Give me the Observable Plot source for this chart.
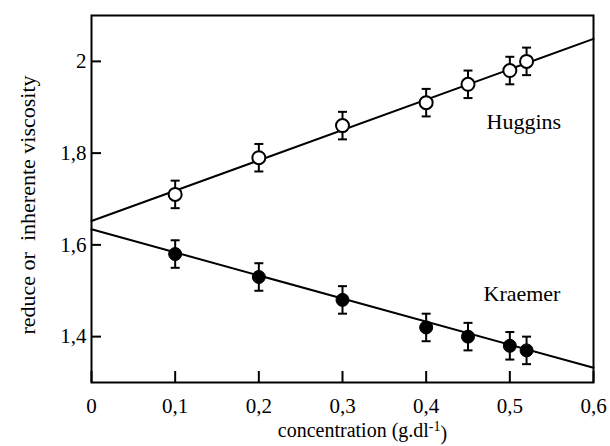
<!DOCTYPE html>
<html>
<head>
<meta charset="utf-8">
<script src="https://cdn.jsdelivr.net/npm/d3@7"></script>
<script src="https://cdn.jsdelivr.net/npm/@observablehq/plot@0.6"></script>
<style>
  body { margin: 0; background: #fff; }
  svg, svg text, svg tspan { font-family: "Liberation Serif", "Times New Roman", serif !important; }
  .ytitle text { white-space: pre; }
</style>
</head>
<body>
<div id="chart"></div>
<script>
// Concentration (g/dl) of each measured solution
const concentration = [0.1, 0.2, 0.3, 0.4, 0.45, 0.5, 0.52];
// Reduced viscosity (Huggins) and inherent viscosity (Kraemer)
const huggins = [1.71, 1.79, 1.86, 1.91, 1.95, 1.98, 2.00];
const kraemer = [1.58, 1.53, 1.48, 1.42, 1.40, 1.38, 1.37];
// Half-height of the error bars
const hugginsErr = [0.03, 0.03, 0.03, 0.03, 0.03, 0.03, 0.03];
const kraemerErr = [0.03, 0.03, 0.03, 0.03, 0.03, 0.03, 0.03];
// Fitted straight lines, extrapolated to zero concentration
const fitConcentration = [0, 0.6];
const hugginsFit = [1.652, 2.049];
const kraemerFit = [1.634, 1.332];
// Axis ticks
const xTicks = [0, 0.1, 0.2, 0.3, 0.4, 0.5, 0.6];
const yTicks = [1.4, 1.6, 1.8, 2.0];
const seriesNames = ["Huggins", "Kraemer"];
const xTitle = "concentration (g.dl";
const xTitleExp = "-1";
const yTitle = "reduce or  inherente viscosity";

const serif = "Liberation Serif, Times New Roman, serif";

const rows = (ys, es) => concentration.map((c, i) => ({c, v: ys[i], e: es[i]}));
const hRows = rows(huggins, hugginsErr);
const kRows = rows(kraemer, kraemerErr);
const fitRows = ys => fitConcentration.map((c, i) => ({c, v: ys[i]}));

// Decimal comma, as in the source publication
const fmt = d => String(+(+d).toFixed(2)).replace(".", ",");

// Horizontal cap drawn at the ends of each error bar
const cap = {draw(context) { context.moveTo(-4.5, 0); context.lineTo(4.5, 0); }};

const errorMarks = data => [
  Plot.ruleX(data, {x: "c", y1: d => d.v - d.e, y2: d => d.v + d.e, stroke: "#000", strokeWidth: 2}),
  Plot.dot(data, {x: "c", y: d => d.v + d.e, symbol: cap, fill: "none", stroke: "#000", strokeWidth: 2}),
  Plot.dot(data, {x: "c", y: d => d.v - d.e, symbol: cap, fill: "none", stroke: "#000", strokeWidth: 2})
];

const chart = Plot.plot({
  width: 610,
  height: 446,
  marginLeft: 91,
  marginRight: 17,
  marginTop: 15,
  marginBottom: 64,
  style: {fontFamily: serif, fontSize: "20px", color: "#000", background: "#fff"},
  x: {domain: [0, 0.6]},
  y: {domain: [1.30, 2.10]},
  marks: [
    // inward tick marks
    Plot.axisX(xTicks, {tickSize: -11, tickFormat: () => "", strokeWidth: 2, label: null}),
    Plot.axisY(yTicks, {tickSize: -10, tickFormat: () => "", strokeWidth: 2, label: null}),
    // tick labels
    Plot.axisX(xTicks, {tickSize: 0, tickPadding: 16, tickFormat: fmt, fontSize: 21, fontFamily: serif, label: null}),
    Plot.axisY(yTicks, {tickSize: 0, tickPadding: 5, tickFormat: fmt, fontSize: 21, fontFamily: serif, label: null}),
    Plot.frame({stroke: "#000", strokeWidth: 2}),
    Plot.line(fitRows(hugginsFit), {x: "c", y: "v", stroke: "#000", strokeWidth: 2}),
    Plot.line(fitRows(kraemerFit), {x: "c", y: "v", stroke: "#000", strokeWidth: 2}),
    ...errorMarks(hRows),
    ...errorMarks(kRows),
    Plot.dot(hRows, {x: "c", y: "v", r: 6.5, fill: "#fff", stroke: "#000", strokeWidth: 2}),
    Plot.dot(kRows, {x: "c", y: "v", r: 6.5, fill: "#000", stroke: "#000", strokeWidth: 1}),
    // series names
    Plot.text([seriesNames[0]], {frameAnchor: "top-right", lineAnchor: "middle", textAnchor: "start", dx: -107, dy: 106, fontSize: 22, fontFamily: serif, fill: "#000"}),
    Plot.text([seriesNames[1]], {frameAnchor: "top-right", lineAnchor: "middle", textAnchor: "start", dx: -110, dy: 278, fontSize: 22, fontFamily: serif, fill: "#000"}),
    // axis titles
    Plot.text([yTitle], {frameAnchor: "left", textAnchor: "middle", lineAnchor: "middle", rotate: -90, dx: -64, dy: 6, fontSize: 22, fontFamily: serif, fill: "#000", className: "ytitle"}),
    Plot.text([xTitle], {frameAnchor: "bottom", textAnchor: "middle", lineAnchor: "middle", dx: 20, dy: 48, fontSize: 20, fontFamily: serif, fill: "#000", className: "xtitle"})
  ]
});

// superscript exponent on the x title
const xt = d3.select(chart).select(".xtitle text");
xt.append("tspan").attr("dy", "-0.45em").attr("font-size", "0.7em").text(xTitleExp);
xt.append("tspan").attr("dy", "0.45em").text(")");

document.getElementById("chart").appendChild(chart);
</script>
</body>
</html>
